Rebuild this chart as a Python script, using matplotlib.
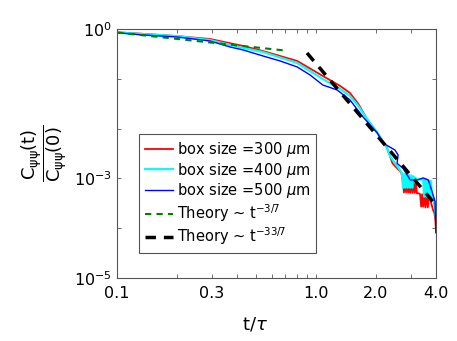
import matplotlib
matplotlib.use('Agg')
import matplotlib.pyplot as plt
from matplotlib.ticker import FixedLocator, NullLocator, NullFormatter

plt.rcParams['mathtext.default'] = 'regular'

# box size = 300 um
t_300 = [0.100, 0.135, 0.200, 0.293, 0.430, 0.541, 0.803, 1.08, 1.32, 1.48, 1.63, 1.80, 2.03, 2.27,
         2.42, 2.55, 2.68,
         2.73, 2.76, 2.80, 2.83, 2.87, 2.90, 2.94, 2.97, 3.01, 3.05, 3.09, 3.13, 3.17, 3.21,
         3.28,
         3.33, 3.37, 3.41, 3.45, 3.50, 3.54, 3.59, 3.64, 3.69,
         3.80, 3.87, 3.93, 3.97, 4.00]
c_300 = [0.86, 0.80, 0.72, 0.63, 0.456, 0.361, 0.228, 0.114, 0.0717, 0.0518, 0.0312, 0.0156, 0.00816, 0.0041,
         2.0e-3, 1.6e-3, 1.3e-3,
         8.5e-4, 5.2e-4, 8.4e-4, 5.2e-4, 8.3e-4, 5.2e-4, 8.2e-4, 5.1e-4, 8.2e-4, 5.1e-4, 8.1e-4, 5.1e-4, 8.0e-4, 5.0e-4,
         5.0e-4,
         4.8e-4, 2.7e-4, 4.8e-4, 2.7e-4, 4.7e-4, 2.6e-4, 4.7e-4, 2.6e-4, 4.6e-4,
         3.0e-4, 2.3e-4, 2.0e-4, 1.5e-4, 8.5e-5]

# box size = 400 um
t_400 = [0.100, 0.135, 0.200, 0.293, 0.430, 0.541, 0.803, 1.08, 1.32, 1.48, 1.63, 1.80, 2.03, 2.27,
         2.35, 2.45, 2.60,
         2.70, 2.73, 2.77, 2.80, 2.84, 2.88, 2.92, 2.96, 3.00, 3.04, 3.07,
         3.15, 3.30,
         3.45, 3.49, 3.53, 3.57, 3.61, 3.65, 3.69, 3.73, 3.77, 3.82, 3.87,
         3.93, 3.97, 4.00]
c_400 = [0.85, 0.79, 0.72, 0.60, 0.415, 0.345, 0.208, 0.099, 0.0624, 0.0452, 0.0284, 0.0156, 0.00816, 0.0041,
         2.8e-3, 2.2e-3, 1.6e-3,
         1.25e-3, 6.5e-4, 1.22e-3, 6.5e-4, 1.2e-3, 6.5e-4, 1.18e-3, 6.5e-4, 1.15e-3, 6.5e-4, 1.1e-3,
         1.0e-3, 9.5e-4,
         9.5e-4, 4.3e-4, 9.3e-4, 4.3e-4, 9.2e-4, 4.3e-4, 9.0e-4, 4.3e-4, 8.8e-4, 4.3e-4, 4.2e-4,
         2.8e-4, 2.2e-4, 1.6e-4]

# box size = 500 um
t_500 = [0.100, 0.135, 0.200, 0.293, 0.370, 0.430, 0.541, 0.659, 0.803, 0.933, 1.08, 1.275, 1.48, 1.72, 2.03,
         2.17, 2.49, 2.58, 2.55, 2.73, 2.97, 3.23, 3.45, 3.66, 3.84, 3.96, 4.00]
c_500 = [0.84, 0.758, 0.69, 0.574, 0.435, 0.379, 0.287, 0.228, 0.173, 0.119, 0.0751, 0.0596, 0.0375, 0.0171, 0.00816,
         5.1e-3, 3.7e-3, 2.95e-3, 2.0e-3, 1.6e-3, 9.3e-4, 9.3e-4, 1.02e-3, 9.3e-4, 5.1e-4, 3.4e-4, 8.0e-5]

# theory lines (end points, straight on log-log)
t_th1 = [0.1, 0.70]
c_th1 = [0.85, 0.369]
t_th2 = [0.90, 4.0]
c_th2 = [0.33, 2.9e-4]

fig = plt.figure(figsize=(4.57, 3.41), dpi=100)
ax = fig.add_axes([0.256, 0.185, 0.698, 0.730])

mu = r'$\mathit{\mu}$'
ax.plot(t_300, c_300, color='#ff0000', lw=1.3, label='box size =300 ' + mu + 'm')
ax.plot(t_400, c_400, color='#00ffff', lw=1.6, label='box size =400 ' + mu + 'm')
ax.plot(t_500, c_500, color='#0000ff', lw=1.0, label='box size =500 ' + mu + 'm')
ax.plot(t_th1, c_th1, color='#008000', lw=1.5, dashes=(3, 2.5), label='Theory \u223c t$^{-3/7}$')
ax.plot(t_th2, c_th2, color='black', lw=2.5, dashes=(3, 2.3), label='Theory \u223c t$^{-33/7}$')

ax.set_xscale('log')
ax.set_yscale('log')
ax.set_xlim(0.1, 4.0)
ax.set_ylim(1e-5, 1)

ax.xaxis.set_major_locator(FixedLocator([0.1, 0.3, 1.0, 2.0, 4.0]))
ax.xaxis.set_minor_locator(FixedLocator([0.2, 0.4, 0.5, 0.6, 0.7, 0.8, 0.9, 3.0]))
ax.xaxis.set_minor_formatter(NullFormatter())
ax.set_xticklabels(['0.1', '0.3', '1.0', '2.0', '4.0'])
ax.yaxis.set_major_locator(FixedLocator([1e-5, 1e-4, 1e-3, 1e-2, 1e-1, 1]))
ax.yaxis.set_minor_locator(NullLocator())
ax.set_yticklabels(['$10^{-5}$', '', '$10^{-3}$', '', '', '$10^{0}$'])

ax.tick_params(which='both', direction='in', top=True, right=True, length=3, width=0.6,
               color='#555555', labelsize=11.5)
ax.tick_params(axis='x', pad=6)
for s in ax.spines.values():
    s.set_color('#555555')
    s.set_linewidth(0.8)

ax.set_xlabel(r't/$\mathit{\tau}$', fontsize=13)
ax.xaxis.set_label_coords(0.433, -0.15)
ax.set_ylabel(r'$\dfrac{C_{\psi\psi}(t)}{C_{\psi\psi}(0)}$', fontsize=13)
ax.yaxis.set_label_coords(-0.15, 0.5)

leg = ax.legend(loc='lower left', bbox_to_anchor=(0.069, 0.10), borderaxespad=0,
                fontsize=10.5, handlelength=1.9, handletextpad=0.3, labelspacing=0.12,
                fancybox=False, framealpha=1, edgecolor='#555555', borderpad=0.4)
leg.get_frame().set_linewidth(0.8)

fig.savefig('out.png', dpi=100)
